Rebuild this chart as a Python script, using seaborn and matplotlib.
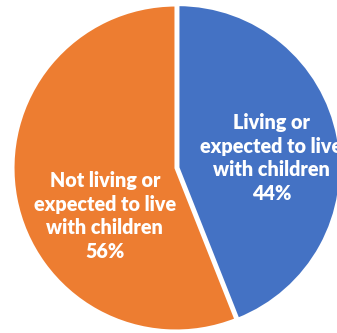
import matplotlib
matplotlib.use("Agg")
import matplotlib.pyplot as plt
import seaborn as sns

categories = ["Living or\nexpected to live\nwith children",
              "Not living or\nexpected to live\nwith children"]
shares = [44, 56]
colors = ["#4472C4", "#ED7D31"]

sns.set_theme(style="white")
plt.rcParams["font.family"] = ["Lato", "DejaVu Sans"]

fig = plt.figure(figsize=(3.37, 3.33), dpi=100)
ax = fig.add_axes([0, 0, 1, 1])

ax.pie(shares, colors=colors, startangle=90, counterclock=False,
       radius=1.0, explode=(0.012, 0),
       wedgeprops=dict(edgecolor="white", linewidth=2.2))

label_pos = [(0.585, 0.061), (-0.436, -0.294)]
for cat, val, (x, y) in zip(categories, shares, label_pos):
    ax.text(x, y, f"{cat}\n{val}%", ha="center", va="center",
            color="white", fontsize=14.2, fontweight="heavy",
            linespacing=1.28)

ax.set_xlim(-176 / 163, (337 - 176) / 163)
ax.set_ylim(-(333 - 168) / 163, 168 / 163)
ax.set_aspect("auto")
ax.axis("off")

fig.savefig("out.png", dpi=100, facecolor="white")
